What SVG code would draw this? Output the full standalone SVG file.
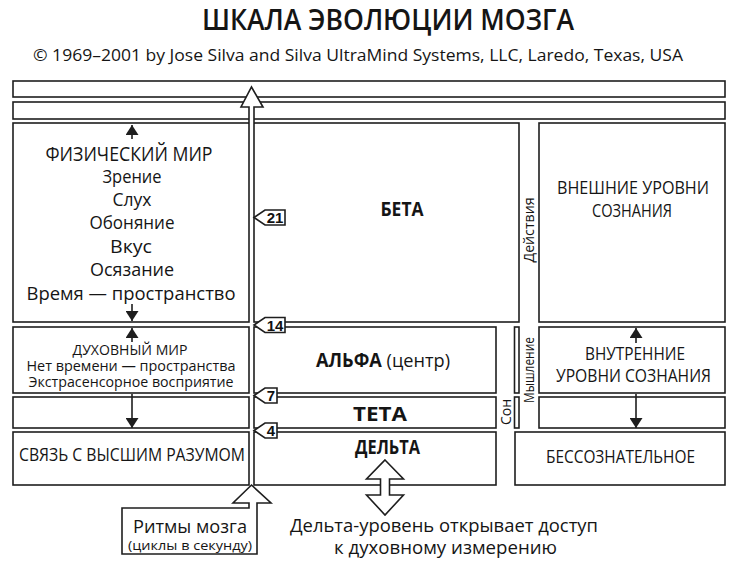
<svg xmlns="http://www.w3.org/2000/svg" width="737" height="574" viewBox="0 0 737 574">
<style>
.b{fill:#fff;stroke:#1e1e1e;stroke-width:1.6}
.ln{fill:none;stroke:#1e1e1e;stroke-width:1.6}
.t{font-family:'Open Sans','Noto Sans','DejaVu Sans',sans-serif;fill:#151515;text-anchor:middle}
.bd{font-weight:700}
.n{font-family:'Liberation Sans',Arial,sans-serif;font-weight:700;font-size:15px;fill:#111;text-anchor:middle}
</style>
<defs>
<marker id="ah" viewBox="0 0 10 13" refX="10" refY="6.5" markerWidth="10" markerHeight="13" orient="auto" markerUnits="userSpaceOnUse">
<path d="M0,0 L10,6.5 L0,13 Z" fill="#1e1e1e"/>
</marker>
</defs>
<rect width="737" height="574" fill="#fff"/>
<g id="title">
<text class="t" x="388" y="30" font-size="28" font-weight="600" textLength="372" lengthAdjust="spacingAndGlyphs">ШКАЛА ЭВОЛЮЦИИ МОЗГА</text>
<text class="t" x="358" y="61" font-size="17" textLength="650" lengthAdjust="spacingAndGlyphs">© 1969–2001 by Jose Silva and Silva UltraMind Systems, LLC, Laredo, Texas, USA</text>
</g>
<g id="bars">
<rect class="b" x="13" y="81" width="712" height="16"/>
<rect class="b" x="13" y="102" width="712" height="17"/>
</g>
<g id="physical">
<rect class="b" x="13" y="123" width="236" height="199"/>
<text class="t" x="129" y="161" font-size="20" textLength="167" lengthAdjust="spacingAndGlyphs">ФИЗИЧЕСКИЙ МИР</text>
<text class="t" x="132" y="183" font-size="18" textLength="59" lengthAdjust="spacingAndGlyphs">Зрение</text>
<text class="t" x="132" y="206" font-size="18" textLength="39" lengthAdjust="spacingAndGlyphs">Слух</text>
<text class="t" x="132" y="229" font-size="18" textLength="85" lengthAdjust="spacingAndGlyphs">Обоняние</text>
<text class="t" x="131" y="253" font-size="18" textLength="42" lengthAdjust="spacingAndGlyphs">Вкус</text>
<text class="t" x="132" y="276" font-size="18" textLength="84" lengthAdjust="spacingAndGlyphs">Осязание</text>
<text class="t" x="131" y="300" font-size="18" textLength="209" lengthAdjust="spacingAndGlyphs">Время — пространство</text>
</g>
<g id="spiritual">
<rect class="b" x="13" y="327" width="236" height="66"/>
<text class="t" x="130" y="355" font-size="14" textLength="115" lengthAdjust="spacingAndGlyphs">ДУХОВНЫЙ МИР</text>
<text class="t" x="131" y="371" font-size="14" textLength="209" lengthAdjust="spacingAndGlyphs">Нет времени — пространства</text>
<text class="t" x="131" y="387" font-size="14" textLength="205" lengthAdjust="spacingAndGlyphs">Экстрасенсорное восприятие</text>
</g>
<g id="left-theta"><rect class="b" x="13" y="397" width="236" height="31"/></g>
<g id="higher-mind">
<rect class="b" x="13" y="432" width="236" height="53"/>
<text class="t" x="132" y="461" font-size="17.5" textLength="226" lengthAdjust="spacingAndGlyphs">СВЯЗЬ С ВЫСШИМ РАЗУМОМ</text>
</g>
<g id="beta">
<rect class="b" x="254" y="123" width="265" height="199"/>
<text class="t bd" x="402" y="216" font-size="19" textLength="43" lengthAdjust="spacingAndGlyphs">БЕТА</text>
</g>
<g id="alpha">
<rect class="b" x="254" y="327" width="242" height="66"/>
<text class="t" x="383" y="367" font-size="19" textLength="134" lengthAdjust="spacingAndGlyphs"><tspan class="bd">АЛЬФА</tspan> (центр)</text>
</g>
<g id="theta">
<rect class="b" x="254" y="397" width="242" height="31"/>
<text class="t bd" x="380" y="421" font-size="19" textLength="54" lengthAdjust="spacingAndGlyphs">ТЕТА</text>
</g>
<g id="delta">
<rect class="b" x="254" y="432" width="242" height="53"/>
<text class="t bd" x="387.5" y="454" font-size="19" textLength="65" lengthAdjust="spacingAndGlyphs">ДЕЛЬТА</text>
</g>
<g id="outer-levels">
<rect class="b" x="539" y="123" width="186" height="199"/>
<text class="t" x="633" y="194" font-size="17.5" textLength="152" lengthAdjust="spacingAndGlyphs">ВНЕШНИЕ УРОВНИ</text>
<text class="t" x="632" y="217" font-size="17.5" textLength="80" lengthAdjust="spacingAndGlyphs">СОЗНАНИЯ</text>
</g>
<g id="thinking-bars">
<rect class="b" x="514.5" y="327" width="4.5" height="66"/>
<rect class="b" x="514.5" y="397" width="4.5" height="31"/>
</g>
<g id="inner-levels">
<rect class="b" x="539" y="327" width="186" height="66"/>
<text class="t" x="635" y="360" font-size="17.5" textLength="100" lengthAdjust="spacingAndGlyphs">ВНУТРЕННИЕ</text>
<text class="t" x="633.5" y="382" font-size="17.5" textLength="155" lengthAdjust="spacingAndGlyphs">УРОВНИ СОЗНАНИЯ</text>
</g>
<g id="right-theta"><rect class="b" x="539" y="397" width="186" height="31"/></g>
<g id="unconscious">
<rect class="b" x="515" y="432" width="210" height="53"/>
<text class="t" x="620.5" y="463" font-size="17.5" textLength="149" lengthAdjust="spacingAndGlyphs">БЕССОЗНАТЕЛЬНОЕ</text>
</g>
<g id="side-labels">
<text class="t" font-size="15" transform="translate(534,230) rotate(-90)" textLength="65" lengthAdjust="spacingAndGlyphs">Действия</text>
<text class="t" font-size="15" transform="translate(534,370) rotate(-90)" textLength="66" lengthAdjust="spacingAndGlyphs">Мышление</text>
<text class="t" font-size="15" transform="translate(511,412) rotate(-90)" textLength="26" lengthAdjust="spacingAndGlyphs">Сон</text>
</g>
<g id="connectors">
<path class="b" d="M249,124 L249,107 L241,107 L251.5,87 L263,107 L254,107 L254,124"/>
<line class="ln" x1="132" y1="139" x2="132" y2="125" marker-end="url(#ah)"/>
<line class="ln" x1="132" y1="304" x2="132" y2="321" marker-end="url(#ah)"/>
<line class="ln" x1="132" y1="342" x2="132" y2="328" marker-end="url(#ah)"/>
<line class="ln" x1="132" y1="394" x2="132" y2="428" marker-end="url(#ah)"/>
<line class="ln" x1="636" y1="343" x2="636" y2="328" marker-end="url(#ah)"/>
<line class="ln" x1="636" y1="394" x2="636" y2="428" marker-end="url(#ah)"/>
<path class="b" d="M385,460 L403.5,479 L389.5,479 L389.5,495 L403.5,495 L385,515 L366.5,495 L380.5,495 L380.5,479 L366.5,479 Z"/>
</g>
<g id="markers">
<path class="b" d="M254,217.5 L265,210 L285,210 L285,225 L265,225 Z"/>
<text class="n" x="275" y="223">21</text>
<path class="b" d="M254,325 L265,317.5 L285,317.5 L285,332.5 L265,332.5 Z"/>
<text class="n" x="275" y="330.5">14</text>
<path class="b" d="M254,395.5 L265,388 L277,388 L277,403 L265,403 Z"/>
<text class="n" x="271" y="401">7</text>
<path class="b" d="M254,430.5 L265,423 L277,423 L277,438 L265,438 Z"/>
<text class="n" x="271" y="436">4</text>
</g>
<g id="brain-rhythms">
<path class="b" d="M122,508 L249,508 L249,503 L233,503 L251.5,485 L271,503 L257,503 L257,554 L122,554 Z"/>
<text class="t" x="190" y="533" font-size="17.5" textLength="114" lengthAdjust="spacingAndGlyphs">Ритмы мозга</text>
<text class="t" x="190" y="549.5" font-size="13" textLength="124" lengthAdjust="spacingAndGlyphs">(циклы в секунду)</text>
</g>
<g id="delta-note">
<text class="t" x="444" y="532" font-size="18" textLength="308" lengthAdjust="spacingAndGlyphs">Дельта-уровень открывает доступ</text>
<text class="t" x="445.5" y="554" font-size="18" textLength="223" lengthAdjust="spacingAndGlyphs">к духовному измерению</text>
</g>
</svg>
